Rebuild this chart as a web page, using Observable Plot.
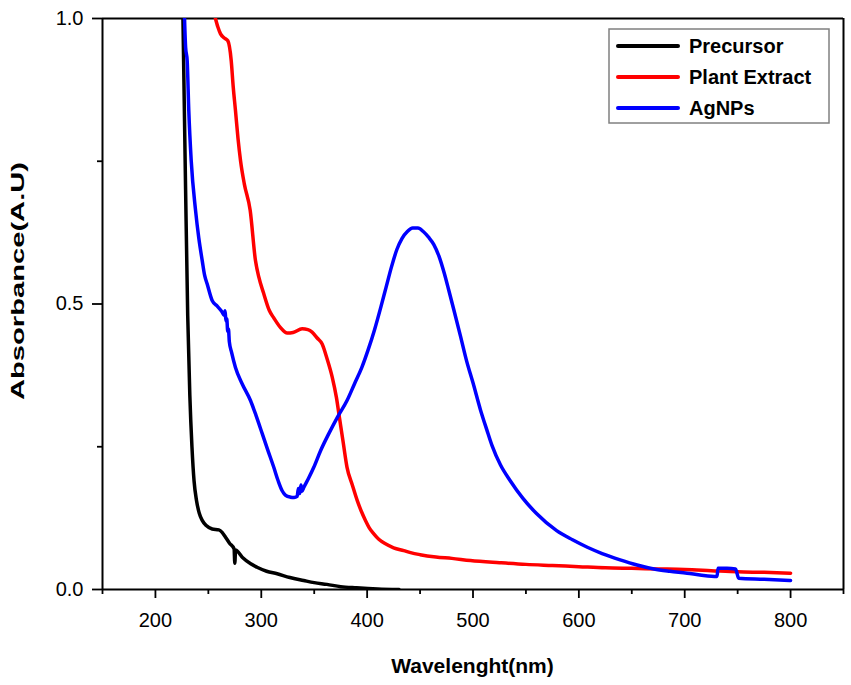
<!DOCTYPE html>
<html><head><meta charset="utf-8">
<script src="https://cdn.jsdelivr.net/npm/d3@7"></script>
<script src="https://cdn.jsdelivr.net/npm/@observablehq/plot@0.6"></script>
<style>body{margin:0;background:#fff}</style>
</head><body><div id="chart"></div>
<script>
const seriesNames = ["Precursor", "Plant Extract", "AgNPs"];
const seriesColors = ["#000000", "#ff0000", "#0000ff"];

const precursorX = [226, 228.5, 230.5, 232.5, 234.5, 236.5, 238.8, 241.5, 244.2, 248, 253.6, 259.9, 263, 266.2, 270, 274.3, 275, 275.7, 282, 290, 296, 305, 315, 327, 340, 350, 362, 375, 390, 410, 430];
const precursorY = [1.0, 0.70, 0.48, 0.34, 0.25, 0.19, 0.156, 0.133, 0.121, 0.112, 0.106, 0.1045, 0.100, 0.0916, 0.081, 0.071, 0.046, 0.069, 0.0566, 0.045, 0.039, 0.032, 0.0275, 0.021, 0.0158, 0.012, 0.009, 0.005, 0.003, 0.001, 0.0];

const extractX = [256.7, 259, 261.5, 265, 268.4, 271.6, 273.5, 275.6, 278, 280.4, 284, 289.5, 294.5, 297.7, 302, 307.5, 312, 318, 324.5, 330, 338.6, 344, 348, 353, 357.5, 362, 367, 371, 374, 377.5, 381, 386, 390.6, 394.5, 398.4, 402, 406.3, 411, 417.3, 425, 434.6, 441, 450, 465, 480, 497.6, 525, 550, 575, 600, 625, 650, 675, 700, 725, 750, 775, 800];
const extractY = [1.0, 0.985, 0.973, 0.966, 0.961, 0.926, 0.88, 0.839, 0.79, 0.751, 0.71, 0.664, 0.576, 0.547, 0.52, 0.489, 0.475, 0.459, 0.449, 0.450, 0.4566, 0.455, 0.4506, 0.440, 0.430, 0.405, 0.372, 0.336, 0.299, 0.256, 0.214, 0.183, 0.156, 0.137, 0.121, 0.108, 0.0975, 0.088, 0.080, 0.073, 0.068, 0.0645, 0.061, 0.057, 0.0545, 0.0508, 0.047, 0.044, 0.042, 0.040, 0.038, 0.037, 0.036, 0.035, 0.033, 0.031, 0.030, 0.0286];

const agnpX = [227.5, 228.5, 230, 231.5, 233.8, 237.9, 241, 244.2, 246.5, 248.9, 253.6, 258, 263, 265, 265.8, 266.6, 267.4, 268.3, 269, 269.8, 272, 275.6, 282, 289.8, 295, 300.9, 306, 311.8, 316, 319.7, 323, 327.6, 331, 333.9, 335, 336.3, 337.5, 338.5, 340, 345, 349.6, 356, 363.8, 372, 381, 388, 395, 401, 407, 413, 418, 423, 428, 433, 438, 443, 448, 453, 458, 463, 468, 473, 477, 482, 488, 494, 500, 507, 513, 518, 526, 535, 547, 560, 579, 594, 608, 622, 639, 655, 671, 686, 702.3, 716, 730.5, 731.5, 740, 748, 751, 775, 800];
const agnpY = [1.0, 0.95, 0.926, 0.839, 0.751, 0.664, 0.615, 0.576, 0.55, 0.535, 0.506, 0.497, 0.486, 0.480, 0.488, 0.470, 0.474, 0.452, 0.456, 0.434, 0.415, 0.389, 0.360, 0.331, 0.305, 0.273, 0.245, 0.214, 0.190, 0.173, 0.165, 0.1617, 0.161, 0.163, 0.177, 0.168, 0.183, 0.172, 0.178, 0.196, 0.214, 0.243, 0.273, 0.302, 0.331, 0.36, 0.389, 0.420, 0.455, 0.495, 0.530, 0.565, 0.595, 0.615, 0.627, 0.633, 0.633, 0.627, 0.617, 0.604, 0.583, 0.553, 0.525, 0.489, 0.445, 0.400, 0.362, 0.315, 0.280, 0.252, 0.218, 0.191, 0.160, 0.133, 0.103, 0.087, 0.074, 0.063, 0.052, 0.043, 0.036, 0.032, 0.0286, 0.025, 0.0228, 0.037, 0.037, 0.036, 0.0198, 0.018, 0.0158];

const xMajorTicks = [200, 300, 400, 500, 600, 700, 800];
const xMinorTicks = [150, 250, 350, 450, 550, 650, 750, 850];
const yMajorTicks = [0, 0.5, 1.0];
const yMinorTicks = [0.25, 0.75];
const xLabel = "Wavelenght(nm)";
const yLabel = "Absorbance(A.U)";

function toRows(name, xs, ys) { return xs.map((x, i) => ({series: name, x, y: ys[i]})); }
const rows = [
  ...toRows(seriesNames[0], precursorX, precursorY),
  ...toRows(seriesNames[1], extractX, extractY),
  ...toRows(seriesNames[2], agnpX, agnpY)
];

const font = "'Liberation Sans', Arial, Helvetica, sans-serif";

const chart = Plot.plot({
  width: 851,
  height: 685,
  marginLeft: 102,
  marginRight: 8,
  marginTop: 18,
  marginBottom: 96,
  style: {fontFamily: font, fontSize: "20px", color: "#000", background: "#fff"},
  x: {domain: [150, 850]},
  y: {domain: [0, 1]},
  color: {domain: seriesNames, range: seriesColors},
  marks: [
    Plot.axisX({ticks: xMajorTicks, tickSize: 9, tickPadding: 14, tickFormat: d => String(d), label: null, strokeWidth: 1.8, fontSize: 20}),
    Plot.axisX({ticks: xMinorTicks, tickSize: 5, fill: "none", label: null, strokeWidth: 1.8}),
    Plot.axisY({ticks: yMajorTicks, tickSize: 10, tickPadding: 9, tickFormat: d3.format(".1f"), label: null, strokeWidth: 1.8, fontSize: 20}),
    Plot.axisY({ticks: yMinorTicks, tickSize: 5, fill: "none", label: null, strokeWidth: 1.8}),
    Plot.ruleX([150, 850], {stroke: "#000", strokeWidth: 2}),
    Plot.ruleY([0, 1], {stroke: "#000", strokeWidth: 2}),
    Plot.line(rows, {x: "x", y: "y", z: "series", stroke: "series", strokeWidth: 3.5, curve: "monotone-x", strokeLinejoin: "round", strokeLinecap: "round", clip: true})
  ]
});

const svg = d3.select(chart);

svg.append("text")
  .attr("x", 472.5).attr("y", 673)
  .attr("text-anchor", "middle")
  .attr("font-family", font).attr("font-weight", "bold").attr("font-size", 21)
  .attr("fill", "#000")
  .text(xLabel);

svg.append("text")
  .attr("transform", "translate(24,281) rotate(-90)")
  .attr("text-anchor", "middle")
  .attr("font-family", font).attr("font-weight", "bold").attr("font-size", 19)
  .attr("textLength", 238).attr("lengthAdjust", "spacingAndGlyphs")
  .attr("fill", "#000")
  .text(yLabel);

const lg = svg.append("g");
lg.append("rect").attr("x", 609).attr("y", 29).attr("width", 220).attr("height", 94)
  .attr("fill", "#fff").attr("stroke", "#808080").attr("stroke-width", 1.5);
const legendRowY = [46, 77, 108];
seriesNames.forEach((name, i) => {
  lg.append("line").attr("x1", 618).attr("x2", 678).attr("y1", legendRowY[i]).attr("y2", legendRowY[i])
    .attr("stroke", seriesColors[i]).attr("stroke-width", 4).attr("stroke-linecap", "round");
  lg.append("text").attr("x", 689).attr("y", legendRowY[i]).attr("dy", "0.36em")
    .attr("text-anchor", "start")
    .attr("font-family", font).attr("font-weight", "bold").attr("font-size", 20)
    .attr("fill", "#000").text(name);
});

document.getElementById("chart").appendChild(chart);
</script>
</body></html>
